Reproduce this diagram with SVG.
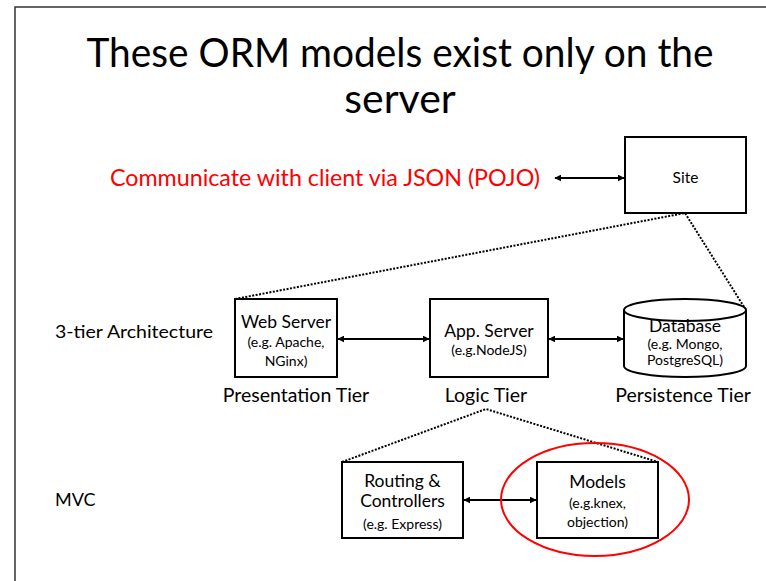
<svg xmlns="http://www.w3.org/2000/svg" width="766" height="581" viewBox="0 0 766 581">
  <style>
    text { font-family: Lato, "Open Sans", "Liberation Sans", sans-serif; fill: #000; text-anchor: middle; }
    .title { font-size: 41px; }
    .big { font-size: 18px; text-anchor: start; }
    .tier { font-size: 19.5px; }
    .name { font-size: 17.5px; }
    .sub { font-size: 14px; }
    .box { fill: #fff; stroke: #000; stroke-width: 2; }
    .link { fill: none; stroke: #000; stroke-width: 2; marker-start: url(#head); marker-end: url(#head); }
    .dots { fill: none; stroke: #000; stroke-width: 2; stroke-dasharray: 2 1.5; }
  </style>
  <defs>
    <marker id="head" viewBox="0 0 10 10" refX="9" refY="5" markerWidth="3.5" markerHeight="3.5" orient="auto-start-reverse">
      <path d="M0,0 L10,5 L0,10 z" fill="#000"/>
    </marker>
  </defs>

  <rect width="766" height="581" fill="#fff"/>
  <!-- slide frame -->
  <path d="M15,581 V7 H766" fill="none" stroke="#333" stroke-width="1.5"/>

  <!-- title -->
  <text class="title" x="400" y="67" textLength="627" lengthAdjust="spacingAndGlyphs">These ORM models exist only on the</text>
  <text class="title" x="400" y="113">server</text>

  <text x="325" y="186" style="font-size:23px;fill:#ff0000" textLength="430" lengthAdjust="spacingAndGlyphs">Communicate with client via JSON (POJO)</text>

  <text class="big" x="55" y="338" textLength="158" lengthAdjust="spacingAndGlyphs">3-tier Architecture</text>
  <text class="big" x="55" y="506">MVC</text>

  <!-- connectors -->
  <g id="connectors">
    <line class="link" x1="555" y1="178" x2="624" y2="178"/>
    <line class="link" x1="338" y1="339" x2="429" y2="339"/>
    <line class="link" x1="549" y1="339" x2="623" y2="339"/>
    <line class="link" x1="464" y1="500" x2="536" y2="500"/>
    <polyline class="dots" points="235,299 685,213 746,310"/>
    <polyline class="dots" points="342,462 486,409 658,462"/>
  </g>

  <g id="site">
    <rect class="box" x="625" y="137" width="121" height="76"/>
    <text x="685.5" y="183" style="font-size:15.5px">Site</text>
  </g>

  <g id="web-server">
    <rect class="box" x="235" y="299" width="102" height="78"/>
    <text class="name" x="286" y="328">Web Server</text>
    <text class="sub" x="286" y="347">(e.g. Apache,</text>
    <text class="sub" x="286" y="366">NGinx)</text>
    <text class="tier" x="296" y="402">Presentation Tier</text>
  </g>

  <g id="app-server">
    <rect class="box" x="430" y="299" width="118" height="78"/>
    <text class="name" x="489" y="337">App. Server</text>
    <text class="sub" x="489" y="355">(e.g.NodeJS)</text>
    <text class="tier" x="486" y="402">Logic Tier</text>
  </g>

  <g id="database">
    <path class="box" d="M624,310 V366 A61,11 0 0 0 746,366 V310"/>
    <ellipse class="box" cx="685" cy="310" rx="61" ry="11"/>
    <text class="name" x="685" y="332">Database</text>
    <text class="sub" x="685" y="349">(e.g. Mongo,</text>
    <text class="sub" x="685" y="365">PostgreSQL)</text>
    <text class="tier" x="683" y="402">Persistence Tier</text>
  </g>

  <g id="routing">
    <rect class="box" x="342" y="462" width="121" height="76"/>
    <text class="name" x="402.5" y="487">Routing &amp;</text>
    <text class="name" x="402.5" y="507">Controllers</text>
    <text class="sub" x="402.5" y="529">(e.g. Express)</text>
  </g>

  <g id="models">
    <rect class="box" x="537" y="462" width="121" height="76"/>
    <text class="name" x="597.5" y="488">Models</text>
    <text class="sub" x="597.5" y="508">(e.g.knex,</text>
    <text class="sub" x="597.5" y="527">objection)</text>
  </g>

  <!-- highlight -->
  <ellipse cx="595" cy="499.5" rx="94" ry="56.5" fill="none" stroke="#ff0000" stroke-width="2"/>
</svg>
